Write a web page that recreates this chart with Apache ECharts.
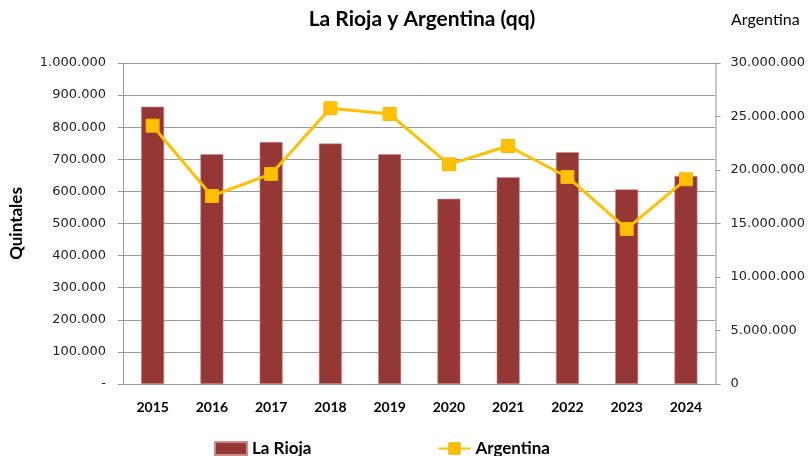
<!DOCTYPE html>
<html>
<head>
<meta charset="utf-8">
<script src="https://cdn.jsdelivr.net/npm/echarts@6/dist/echarts.min.js"></script>
<style>
  html, body { margin: 0; padding: 0; background: #fff; }
  #chart { width: 808px; height: 456px; }
</style>
</head>
<body>
<div id="chart"></div>
<script>
// datos
const years = ['2015', '2016', '2017', '2018', '2019', '2020', '2021', '2022', '2023', '2024'];
const laRioja = [864000, 716000, 754000, 749000, 716000, 577000, 644000, 722000, 606000, 648000];
const argentina = [24140000, 17570000, 19630000, 25770000, 25230000, 20530000, 22240000, 19350000, 14490000, 19130000];

// separador de miles con punto
function miles(v) {
  return String(v).replace(/\B(?=(\d{3})+(?!\d))/g, '.');
}

const chart = echarts.init(document.getElementById('chart'));

const option = {
  animation: false,
  title: [
    {
      text: 'La Rioja y Argentina (qq)',
      left: 417,
      textAlign: 'center',
      top: 4,
      textStyle: { fontFamily: 'Lato', fontWeight: 'bold', fontSize: 21, color: '#000' }
    },
    {
      text: 'Argentina',
      left: 726,
      top: 7,
      textStyle: { fontFamily: 'Lato', fontWeight: 'normal', fontSize: 16, color: '#000' }
    }
  ],
  grid: { left: 123, right: 92, top: 63, bottom: 72, containLabel: false },
  legend: {
    left: 209,
    top: 435,
    itemGap: 126,
    itemWidth: 32,
    itemHeight: 13,
    textStyle: { fontFamily: 'Lato', fontWeight: 'bold', fontSize: 17, color: '#000' },
    data: [{ name: 'La Rioja', icon: 'rect' }, 'Argentina']
  },
  xAxis: {
    type: 'category',
    data: years,
    axisLine: { lineStyle: { color: '#9a9a9a' } },
    axisTick: { show: false },
    axisLabel: { fontFamily: 'Lato', fontWeight: 'bold', fontSize: 14, color: '#000', margin: 16 }
  },
  yAxis: [
    {
      type: 'value',
      name: 'Quintales',
      nameLocation: 'middle',
      nameGap: 98,
      nameRotate: 90,
      nameTextStyle: { fontFamily: 'Lato', fontWeight: 'bold', fontSize: 17, color: '#000' },
      min: 0,
      max: 1000000,
      interval: 100000,
      axisLine: { show: true, lineStyle: { color: '#9a9a9a' } },
      axisTick: { show: true, length: 5, lineStyle: { color: '#9a9a9a' } },
      splitLine: { lineStyle: { color: '#9a9a9a' } },
      axisLabel: {
        fontFamily: 'DejaVu Sans',
        fontSize: 13,
        color: '#222',
        margin: 17,
        formatter: v => v === 0 ? '-' : miles(v)
      }
    },
    {
      type: 'value',
      min: 0,
      max: 30000000,
      interval: 5000000,
      position: 'right',
      axisLine: { show: true, lineStyle: { color: '#c8c8c8', width: 2 } },
      axisTick: { show: true, length: 5, lineStyle: { color: '#9a9a9a' } },
      splitLine: { show: false },
      axisLabel: {
        fontFamily: 'DejaVu Sans',
        fontSize: 13,
        color: '#222',
        margin: 15,
        formatter: v => miles(v)
      }
    }
  ],
  series: [
    {
      name: 'La Rioja',
      type: 'bar',
      yAxisIndex: 0,
      data: laRioja,
      barWidth: 23,
      itemStyle: { color: '#953735', borderColor: '#c98c8b', borderWidth: 0.6 }
    },
    {
      name: 'Argentina',
      type: 'line',
      yAxisIndex: 1,
      data: argentina,
      symbol: 'rect',
      symbolSize: 13,
      lineStyle: { color: '#ffc000', width: 3 },
      itemStyle: { color: '#ffc000', borderColor: '#f5b800', borderWidth: 1 }
    }
  ]
};

chart.setOption(option);
</script>
</body>
</html>
